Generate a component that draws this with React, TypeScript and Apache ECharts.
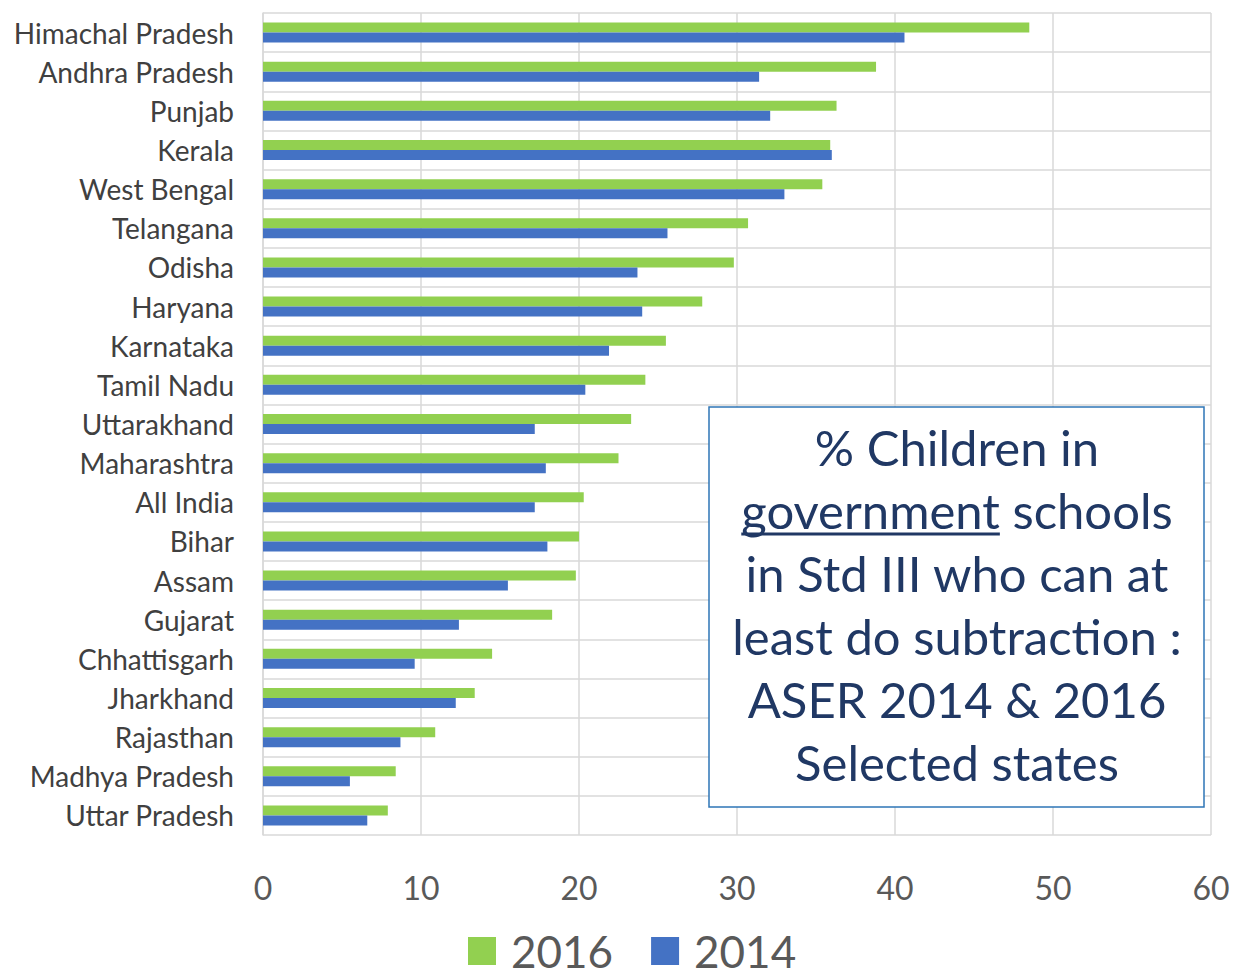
import React, { useEffect, useRef } from "react";
import * as echarts from "echarts";

const states = [
  "Himachal Pradesh",
  "Andhra Pradesh",
  "Punjab",
  "Kerala",
  "West Bengal",
  "Telangana",
  "Odisha",
  "Haryana",
  "Karnataka",
  "Tamil Nadu",
  "Uttarakhand",
  "Maharashtra",
  "All India",
  "Bihar",
  "Assam",
  "Gujarat",
  "Chhattisgarh",
  "Jharkhand",
  "Rajasthan",
  "Madhya Pradesh",
  "Uttar Pradesh",
];

const values2016 = [
  48.5, 38.8, 36.3, 35.9, 35.4, 30.7, 29.8, 27.8, 25.5, 24.2, 23.3, 22.5, 20.3,
  20.0, 19.8, 18.3, 14.5, 13.4, 10.9, 8.4, 7.9,
];

const values2014 = [
  40.6, 31.4, 32.1, 36.0, 33.0, 25.6, 23.7, 24.0, 21.9, 20.4, 17.2, 17.9, 17.2,
  18.0, 15.5, 12.4, 9.6, 12.2, 8.7, 5.5, 6.6,
];

const xTicks = { min: 0, max: 60, interval: 10 };

const titleLines = [
  "% Children in",
  "government schools",
  "in Std III who can at",
  "least do subtraction :",
  "ASER 2014 & 2016",
  "Selected states",
];

const FONT = "Lato, 'Open Sans', sans-serif";
const GREEN = "#92D050";
const BLUE = "#4472C4";
const GRID = "#D9D9D9";
const NAVY = "#203864";

function measure(text: string, size: number): number {
  const c = document.createElement("canvas").getContext("2d");
  if (!c) return text.length * size * 0.5;
  c.font = `${size}px Lato`;
  return c.measureText(text).width;
}

export default function App() {
  const ref = useRef<HTMLDivElement>(null);

  useEffect(() => {
    if (!ref.current) return;
    const chart = echarts.init(ref.current, undefined, { renderer: "svg" });

    // caption box inside the plot
    const boxX = 709;
    const boxY = 407;
    const boxW = 495;
    const boxH = 400;
    const cx = boxX + boxW / 2 + 0.5;
    const titleSize = 49;
    const lineGap = 63;
    const firstLineY = 447;

    const texts: any[] = titleLines.map((line, i) => ({
      type: "text",
      x: cx,
      y: firstLineY + i * lineGap,
      style: {
        text: line,
        fill: NAVY,
        font: `${titleSize}px ${FONT}`,
        textAlign: "center",
        textVerticalAlign: "middle",
      },
      z: 101,
    }));

    // underline under "government"
    const fullW = measure(titleLines[1], titleSize);
    const wordW = measure("government", titleSize);
    const ulStart = cx - fullW / 2;
    const ulY = firstLineY + lineGap + 24;

    const graphic: any[] = [
      {
        type: "rect",
        shape: { x: boxX, y: boxY, width: boxW, height: boxH },
        style: { fill: "#FFFFFF", stroke: "#2E75B6", lineWidth: 1.5 },
        z: 100,
      },
      ...texts,
      {
        type: "line",
        shape: { x1: ulStart, y1: ulY, x2: ulStart + wordW, y2: ulY },
        style: { stroke: NAVY, lineWidth: 3 },
        z: 101,
      },
    ];

    chart.setOption({
      animation: false,
      backgroundColor: "#FFFFFF",
      grid: { left: 263, top: 13, width: 948, height: 822 },
      legend: {
        data: ["2016", "2014"],
        left: 463,
        top: 924,
        itemWidth: 28,
        itemHeight: 28,
        itemGap: 38,
        icon: "rect",
        textStyle: {
          fontFamily: FONT,
          fontSize: 44,
          lineHeight: 44,
          color: "#595959",
          padding: [0, 0, 0, 10],
        },
      },
      xAxis: {
        type: "value",
        min: xTicks.min,
        max: xTicks.max,
        interval: xTicks.interval,
        axisLine: { show: false },
        axisTick: { show: false },
        axisLabel: {
          fontFamily: FONT,
          fontSize: 32,
          color: "#595959",
          margin: 36,
        },
        splitLine: { show: true, lineStyle: { color: GRID, width: 1.5 } },
      },
      yAxis: {
        type: "category",
        data: states,
        inverse: true,
        axisLine: { show: true, lineStyle: { color: GRID, width: 1.5 } },
        axisTick: { show: false },
        axisLabel: {
          fontFamily: FONT,
          fontSize: 28,
          color: "#404040",
          margin: 29,
        },
        splitLine: { show: true, lineStyle: { color: GRID, width: 1.5 } },
      },
      series: [
        {
          name: "2016",
          type: "bar",
          data: values2016,
          barWidth: 10,
          barGap: "0%",
          itemStyle: { color: GREEN },
        },
        {
          name: "2014",
          type: "bar",
          data: values2014,
          barWidth: 10,
          barGap: "0%",
          itemStyle: { color: BLUE },
        },
      ],
      graphic,
    });

    return () => chart.dispose();
  }, []);

  return (
    <div
      ref={ref}
      style={{ position: "fixed", left: 0, top: 0, width: 1236, height: 980 }}
    />
  );
}
